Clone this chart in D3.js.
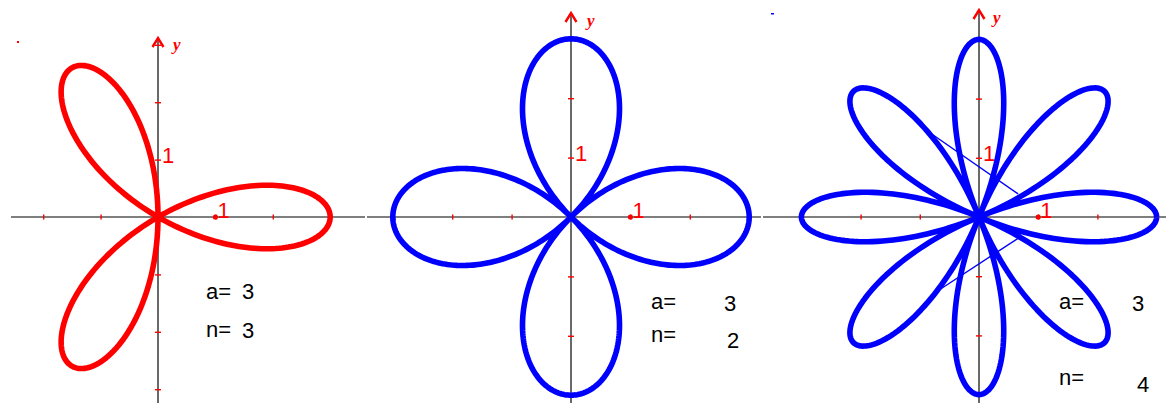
<!DOCTYPE html>
<html>
<head>
<meta charset="utf-8">
<script src="https://cdn.jsdelivr.net/npm/d3@7"></script>
<style>
  body {margin:0; background:#fff;}
  svg {display:block;}
  text {font-family:"Liberation Sans", Arial, sans-serif;}
</style>
</head>
<body>
<svg width="1166" height="403"></svg>
<script>
// rose curves r = a*cos(n*theta)
var aValues = [3, 3, 3];
var nValues = [3, 2, 4];
var tickValues = [-3, -2, -1, 1, 2, 3];
var unitLabel = "1";
var axisName = "y";
// stray thin segments in the third graph (data units)
var extraSegments = [
  [[-0.78, 1.39], [0.66, 0.39]],
  [[0.66, -0.36], [-0.70, -1.25]]
];

// layout of each graph
var layout = [
  {ox: 158, oy: 217, unit: 57.4, xFrom: 11, xTo: 365, yTop: 38, color: "#ff0000",
   aX: 206, aY: 299, aVX: 242, aVY: 299, nX: 206, nY: 337, nVX: 242, nVY: 338, yLX: 173, yLY: 50},
  {ox: 571, oy: 217, unit: 59.4, xFrom: 367, xTo: 761, yTop: 13, color: "#0000ff",
   aX: 651, aY: 309, aVX: 724, aVY: 311, nX: 651, nY: 342, nVX: 727, nVY: 348, yLX: 587, yLY: 26},
  {ox: 979, oy: 217, unit: 59.2, xFrom: 763, xTo: 1166, yTop: 10, color: "#0000ff",
   aX: 1059, aY: 309, aVX: 1132, aVY: 311, nX: 1059, nY: 385, nVX: 1137, nVY: 392, yLX: 993, yLY: 23}
];

var svg = d3.select("svg");

// stray marks
svg.append("rect").attr("x", 17).attr("y", 41).attr("width", 2).attr("height", 2).attr("fill", "#ff0000");
svg.append("rect").attr("x", 771).attr("y", 13).attr("width", 3).attr("height", 1.5).attr("fill", "#0000ff");

layout.forEach(function(L, i) {
  var a = aValues[i], n = nValues[i];
  var x = d3.scaleLinear().domain([-3, 3]).range([L.ox - 3 * L.unit, L.ox + 3 * L.unit]);
  var y = d3.scaleLinear().domain([-3, 3]).range([L.oy + 3 * L.unit, L.oy - 3 * L.unit]);
  var r = d3.scaleLinear().domain([0, 3]).range([0, 3 * L.unit]);
  var g = svg.append("g");

  // axes lines
  g.append("line").attr("x1", L.xFrom).attr("x2", L.xTo).attr("y1", L.oy).attr("y2", L.oy)
    .attr("stroke", "#555").attr("stroke-width", 1.5);
  g.append("line").attr("x1", L.ox).attr("x2", L.ox).attr("y1", L.yTop + 2).attr("y2", 403)
    .attr("stroke", "#444").attr("stroke-width", 1.6);

  // ticks
  var xa = d3.axisBottom(x).tickValues(tickValues).tickSize(5).tickFormat("");
  var gx = g.append("g").attr("transform", "translate(0," + (L.oy - 2.5) + ")").call(xa);
  gx.select(".domain").remove();
  gx.selectAll("line").attr("stroke", "#ff0000").attr("stroke-width", 1.4);
  var ya = d3.axisRight(y).tickValues(tickValues).tickSize(6).tickFormat("");
  var gy = g.append("g").attr("transform", "translate(" + (L.ox - 3) + ",0)").call(ya);
  gy.select(".domain").remove();
  gy.selectAll("line").attr("stroke", "#ff0000").attr("stroke-width", 1.4);

  // arrow head
  g.append("path")
    .attr("d", "M" + (L.ox - 5.5) + "," + (L.yTop + 9) + "L" + L.ox + "," + L.yTop + "L" + (L.ox + 5.5) + "," + (L.yTop + 9))
    .attr("fill", "none").attr("stroke", "#ff0000").attr("stroke-width", 2.4);
  g.append("text").attr("x", L.yLX).attr("y", L.yLY).text(axisName)
    .attr("fill", "#ff0000").attr("font-size", 17).attr("font-style", "italic").attr("font-weight", "bold")
    .style("font-family", "'Liberation Serif', serif");

  // unit labels
  g.append("text").attr("x", L.ox + 4).attr("y", y(1) + 3).text(unitLabel)
    .attr("fill", "#ff0000").attr("font-size", 22);
  g.append("circle").attr("cx", x(1)).attr("cy", L.oy).attr("r", 2.6).attr("fill", "#ff0000");
  g.append("text").attr("x", x(1) + 2).attr("y", L.oy + 1).text(unitLabel)
    .attr("fill", "#ff0000").attr("font-size", 22);

  // extra segments
  if (i === 2) {
    extraSegments.forEach(function(s) {
      g.append("line").attr("x1", x(s[0][0])).attr("y1", y(s[0][1]))
        .attr("x2", x(s[1][0])).attr("y2", y(s[1][1]))
        .attr("stroke", "#0000ff").attr("stroke-width", 1.4);
    });
  }

  // rose curve
  var thetas = d3.range(0, 721).map(function(k) { return k * Math.PI / 360; });
  var line = d3.lineRadial()
    .angle(function(t) { return Math.PI / 2 - t; })
    .radius(function(t) { return r(a * Math.cos(n * t)); });
  g.append("path").attr("transform", "translate(" + L.ox + "," + L.oy + ")")
    .attr("d", line(thetas))
    .attr("fill", "none").attr("stroke", L.color).attr("stroke-width", 5.6).attr("stroke-linejoin", "round");

  // parameter labels
  g.append("text").attr("x", L.aX).attr("y", L.aY).text("a=").attr("font-size", 22).attr("fill", "#000");
  g.append("text").attr("x", L.aVX).attr("y", L.aVY).text(a).attr("font-size", 22).attr("fill", "#000");
  g.append("text").attr("x", L.nX).attr("y", L.nY).text("n=").attr("font-size", 22).attr("fill", "#000");
  g.append("text").attr("x", L.nVX).attr("y", L.nVY).text(n).attr("font-size", 22).attr("fill", "#000");
});
</script>
</body>
</html>
